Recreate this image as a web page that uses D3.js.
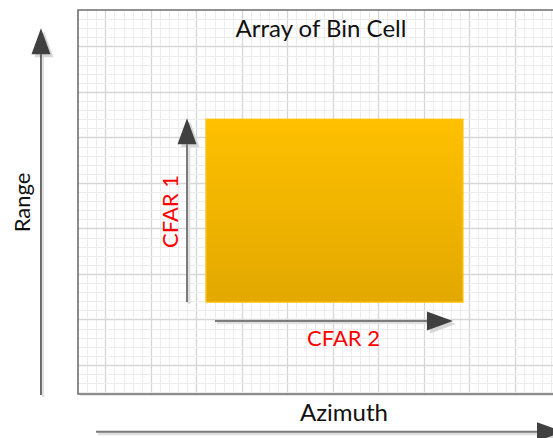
<!DOCTYPE html>
<html>
<head>
<meta charset="utf-8">
<script src="https://cdn.jsdelivr.net/npm/d3@7"></script>
<style>
html, body { margin: 0; padding: 0; background: #fff; }
svg text { font-family: Lato, "Open Sans", sans-serif; }
</style>
</head>
<body>
<svg id="chart" width="553" height="438"></svg>
<script>
// diagram content
var title = "Array of Bin Cell";
var axisLabels = ["Range", "Azimuth"];
var cfarLabels = ["CFAR 1", "CFAR 2"];
var majorEvery = 5;

var svg = d3.select("#chart"),
	width = +svg.attr("width"),
	height = +svg.attr("height");

// one grid cell ~9.1px; domain in cells
var cell = 9.1;
var x = d3.scaleLinear().domain([0, 1]).range([78, 78 + cell]);
var y = d3.scaleLinear().domain([0, 1]).range([10, 10 + cell]);

var frame = {x0: 0, x1: 54, y0: 0, y1: 42.2};

var defs = svg.append("defs");
var grad = defs.append("linearGradient")
	.attr("id", "fillGrad")
	.attr("x1", 0).attr("y1", 0).attr("x2", 0).attr("y2", 1);
grad.append("stop").attr("offset", "0%").attr("stop-color", "#ffc000");
grad.append("stop").attr("offset", "100%").attr("stop-color", "#e2a800");

// frame shadow + background
svg.append("rect")
	.attr("x", x(frame.x0) + 2).attr("y", y(frame.y0) + 2)
	.attr("width", x(frame.x1) - x(frame.x0)).attr("height", y(frame.y1) - y(frame.y0))
	.attr("fill", "#e4e4e4");
svg.append("rect")
	.attr("x", x(frame.x0)).attr("y", y(frame.y0))
	.attr("width", x(frame.x1) - x(frame.x0)).attr("height", y(frame.y1) - y(frame.y0))
	.attr("fill", "#fff");

var grid = svg.append("g").attr("class", "grid");
var vx = d3.range(1, frame.x1 + 1), hy = d3.range(1, Math.floor(frame.y1) + 1);
grid.selectAll("line.v").data(vx).enter().append("line")
	.attr("x1", function(d) { return Math.round(x(d)) + 0.5; })
	.attr("x2", function(d) { return Math.round(x(d)) + 0.5; })
	.attr("y1", y(frame.y0)).attr("y2", y(frame.y1))
	.attr("stroke", function(d) { return (d - 3) % majorEvery === 0 ? "#d6d6d6" : "#ececec"; })
	.attr("stroke-width", function(d) { return (d - 3) % majorEvery === 0 ? 1.3 : 1; });
grid.selectAll("line.h").data(hy).enter().append("line")
	.attr("y1", function(d) { return Math.round(y(d)) + 0.5; })
	.attr("y2", function(d) { return Math.round(y(d)) + 0.5; })
	.attr("x1", x(frame.x0)).attr("x2", x(frame.x1))
	.attr("stroke", function(d) { return (d - 4) % majorEvery === 0 ? "#d6d6d6" : "#ececec"; })
	.attr("stroke-width", function(d) { return (d - 4) % majorEvery === 0 ? 1.3 : 1; });

// frame border
svg.append("path")
	.attr("d", "M" + x(frame.x1) + "," + y(frame.y1) + "H" + x(frame.x0) + "V" + y(frame.y0) + "H" + x(frame.x1))
	.attr("fill", "none").attr("stroke", "#6e6e6e").attr("stroke-width", 1.6);

// cell block
var block = {x0: 14.07, x1: 42.3, y0: 12, y1: 32.1};
svg.append("rect")
	.attr("x", x(block.x0)).attr("y", y(block.y0))
	.attr("width", x(block.x1) - x(block.x0)).attr("height", y(block.y1) - y(block.y0))
	.attr("fill", "url(#fillGrad)")
	.attr("stroke", "#ffc000").attr("stroke-width", 1.2);

// arrows: px coords derived from scales
function arrow(x1, y1, x2, y2, lineColor, lw) {
	var ang = Math.atan2(y2 - y1, x2 - x1),
		len = 26, half = 9.5;
	var bx = x2 - len * Math.cos(ang), by = y2 - len * Math.sin(ang);
	var px = -Math.sin(ang) * half, py = Math.cos(ang) * half;
	var head = "M" + x2 + "," + y2 + "L" + (bx + px) + "," + (by + py) + "L" + (bx - px) + "," + (by - py) + "Z";
	var g = svg.append("g");
	// shadow
	g.append("line").attr("x1", x1 + 2).attr("y1", y1 + 2).attr("x2", bx + 2).attr("y2", by + 2)
		.attr("stroke", "#e0e0e0").attr("stroke-width", lw + 1);
	g.append("path").attr("d", head).attr("transform", "translate(3,3)").attr("fill", "#d6d6d6");
	g.append("line").attr("x1", x1).attr("y1", y1).attr("x2", bx).attr("y2", by)
		.attr("stroke", lineColor).attr("stroke-width", lw);
	g.append("path").attr("d", head).attr("fill", "#404040");
}

arrow(x(-4.07), y(42.3), x(-4.07), y(2.0), "#404040", 1.5);      // Range
arrow(x(1.98), y(46.35), x(53.3), y(46.35), "#7a7a7a", 2);        // Azimuth
arrow(x(11.98), y(32.1), x(11.98), y(11.9), "#7a7a7a", 2);       // CFAR 1
arrow(x(15.05), y(34.17), x(41.2), y(34.17), "#555", 1.5);       // CFAR 2

// text
svg.append("text")
	.attr("x", x(26.7)).attr("y", y(2.97))
	.attr("text-anchor", "middle").attr("font-size", 24).attr("fill", "#111")
	.text(title);

svg.append("text")
	.attr("transform", "translate(" + x(-5.27) + "," + y(21.15) + ") rotate(-90)")
	.attr("text-anchor", "middle").attr("font-size", 22).attr("fill", "#111")
	.text(axisLabels[0]);

svg.append("text")
	.attr("x", x(29.23)).attr("y", y(45.16))
	.attr("text-anchor", "middle").attr("font-size", 24).attr("fill", "#111")
	.text(axisLabels[1]);

svg.append("text")
	.attr("transform", "translate(" + x(11.02) + "," + y(22.14) + ") rotate(-90)")
	.attr("text-anchor", "middle").attr("font-size", 22).attr("fill", "#ff0000")
	.text(cfarLabels[0]);

svg.append("text")
	.attr("x", x(29.18)).attr("y", y(36.92))
	.attr("text-anchor", "middle").attr("font-size", 22).attr("fill", "#ff0000")
	.text(cfarLabels[1]);
</script>
</body>
</html>
